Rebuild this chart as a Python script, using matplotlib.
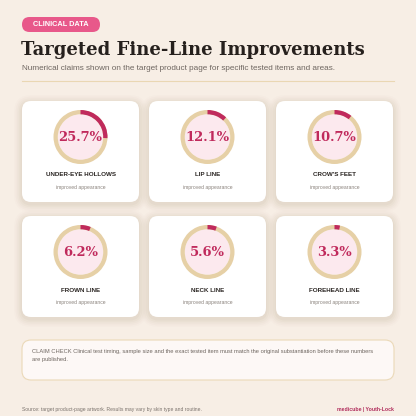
import matplotlib
matplotlib.use("Agg")
import matplotlib.pyplot as plt
from matplotlib.patches import FancyBboxPatch, Wedge, Circle

# ---- data ----
areas = ["UNDER-EYE HOLLOWS", "LIP LINE", "CROW'S FEET", "FROWN LINE", "NECK LINE", "FOREHEAD LINE"]
values = [25.7, 12.1, 10.7, 6.2, 5.6, 3.3]
value_labels = ["25.7%", "12.1%", "10.7%", "6.2%", "5.6%", "3.3%"]
sublabel = "improved appearance"
badge = "CLINICAL DATA"
title = "Targeted Fine-Line Improvements"
subtitle = "Numerical claims shown on the target product page for specific tested items and areas."
note = ("CLAIM CHECK Clinical test timing, sample size and the exact tested item must match the original substantiation before these numbers\n"
        "are published.")
source = "Source: target product-page artwork. Results may vary by skin type and routine."
brand = "medicube | Youth-Lock"

BG = "#F7EEE5"
CRIMSON = "#C02A5C"
TAN = "#E6D0A6"
PINK_FILL = "#FCE9EE"

fig = plt.figure(figsize=(4.16, 4.16), dpi=100, facecolor=BG)
ax = fig.add_axes([0, 0, 1, 1])
ax.set_xlim(0, 416)
ax.set_ylim(416, 0)
ax.axis("off")
ax.set_facecolor(BG)

sans = ["Liberation Sans", "DejaVu Sans"]
serif = ["DejaVu Serif"]

# badge
ax.add_patch(FancyBboxPatch((22, 17), 78, 15, boxstyle="round,pad=0,rounding_size=7.5",
                            fc="#E8588A", ec="none"))
ax.text(61, 24.8, badge, ha="center", va="center", color="white", fontsize=5.3,
        fontweight="bold", family=sans)

# title & subtitle
ax.text(21, 50, title, ha="left", va="center", color="#26201D", fontsize=13.0,
        fontweight="bold", family=serif)
ax.text(22, 68.5, subtitle, ha="left", va="center", color="#6E6660", fontsize=5.85, family=sans)
ax.plot([22, 394], [80.5, 80.5], color="#EAD7B3", lw=0.8)

# cards
col_x = [22, 149, 276]
row_y = [101, 216]
cw, ch = 117, 101
for i, (area, v, lab) in enumerate(zip(areas, values, value_labels)):
    x0 = col_x[i % 3]
    y0 = row_y[i // 3]
    # soft shadow
    for k, a in enumerate([0.04, 0.035, 0.03, 0.022, 0.015]):
        p = 1.5 + k * 1.6
        ax.add_patch(FancyBboxPatch((x0 + 9 - p, y0 + 9 - p + 2), cw - 18 + 2 * p, ch - 18 + 2 * p,
                                    boxstyle=f"round,pad=9,rounding_size={9 + p}",
                                    fc="#8A6A50", ec="none", alpha=a))
    ax.add_patch(FancyBboxPatch((x0 + 9, y0 + 9), cw - 18, ch - 18,
                                boxstyle="round,pad=9,rounding_size=9", fc="white", ec="none"))
    cx = x0 + cw / 2
    cy = y0 + 36
    r = 27
    w = 4.3
    ax.add_patch(Circle((cx, cy), r - w, fc=PINK_FILL, ec="none"))
    ax.add_patch(Wedge((cx, cy), r, 0, 360, width=w, fc=TAN, ec="none"))
    # y axis inverted: angles counterclockwise in data appear clockwise on screen
    ax.add_patch(Wedge((cx, cy), r, -90, -90 + 360 * v / 100, width=w, fc=CRIMSON, ec="none"))
    ax.text(cx, cy + 0.5, lab, ha="center", va="center", color=CRIMSON, fontsize=9.4,
            fontweight="bold", family=serif)
    ax.text(cx, y0 + 74, area, ha="center", va="center", color="#2A2522", fontsize=4.5,
            fontweight="bold", family=sans)
    ax.text(cx, y0 + 86.5, sublabel, ha="center", va="center", color="#8A827C", fontsize=3.6,
            family=sans)

# note box
ax.add_patch(FancyBboxPatch((22 + 9, 340 + 9), 372 - 18, 40 - 18,
                            boxstyle="round,pad=9,rounding_size=9", fc="#FDF8F6", ec="#EBD9B8", lw=0.8))
ax.text(32, 355.5, note, ha="left", va="center", color="#6E6660", fontsize=4.18, family=sans,
        linespacing=1.55)

# footer
ax.text(22, 409, source, ha="left", va="center", color="#7A726C", fontsize=3.65, family=sans)
ax.text(394, 409, brand, ha="right", va="center", color="#B02A5A", fontsize=3.7,
        fontweight="bold", family=sans)

fig.savefig("out.png", dpi=100, facecolor=BG)
